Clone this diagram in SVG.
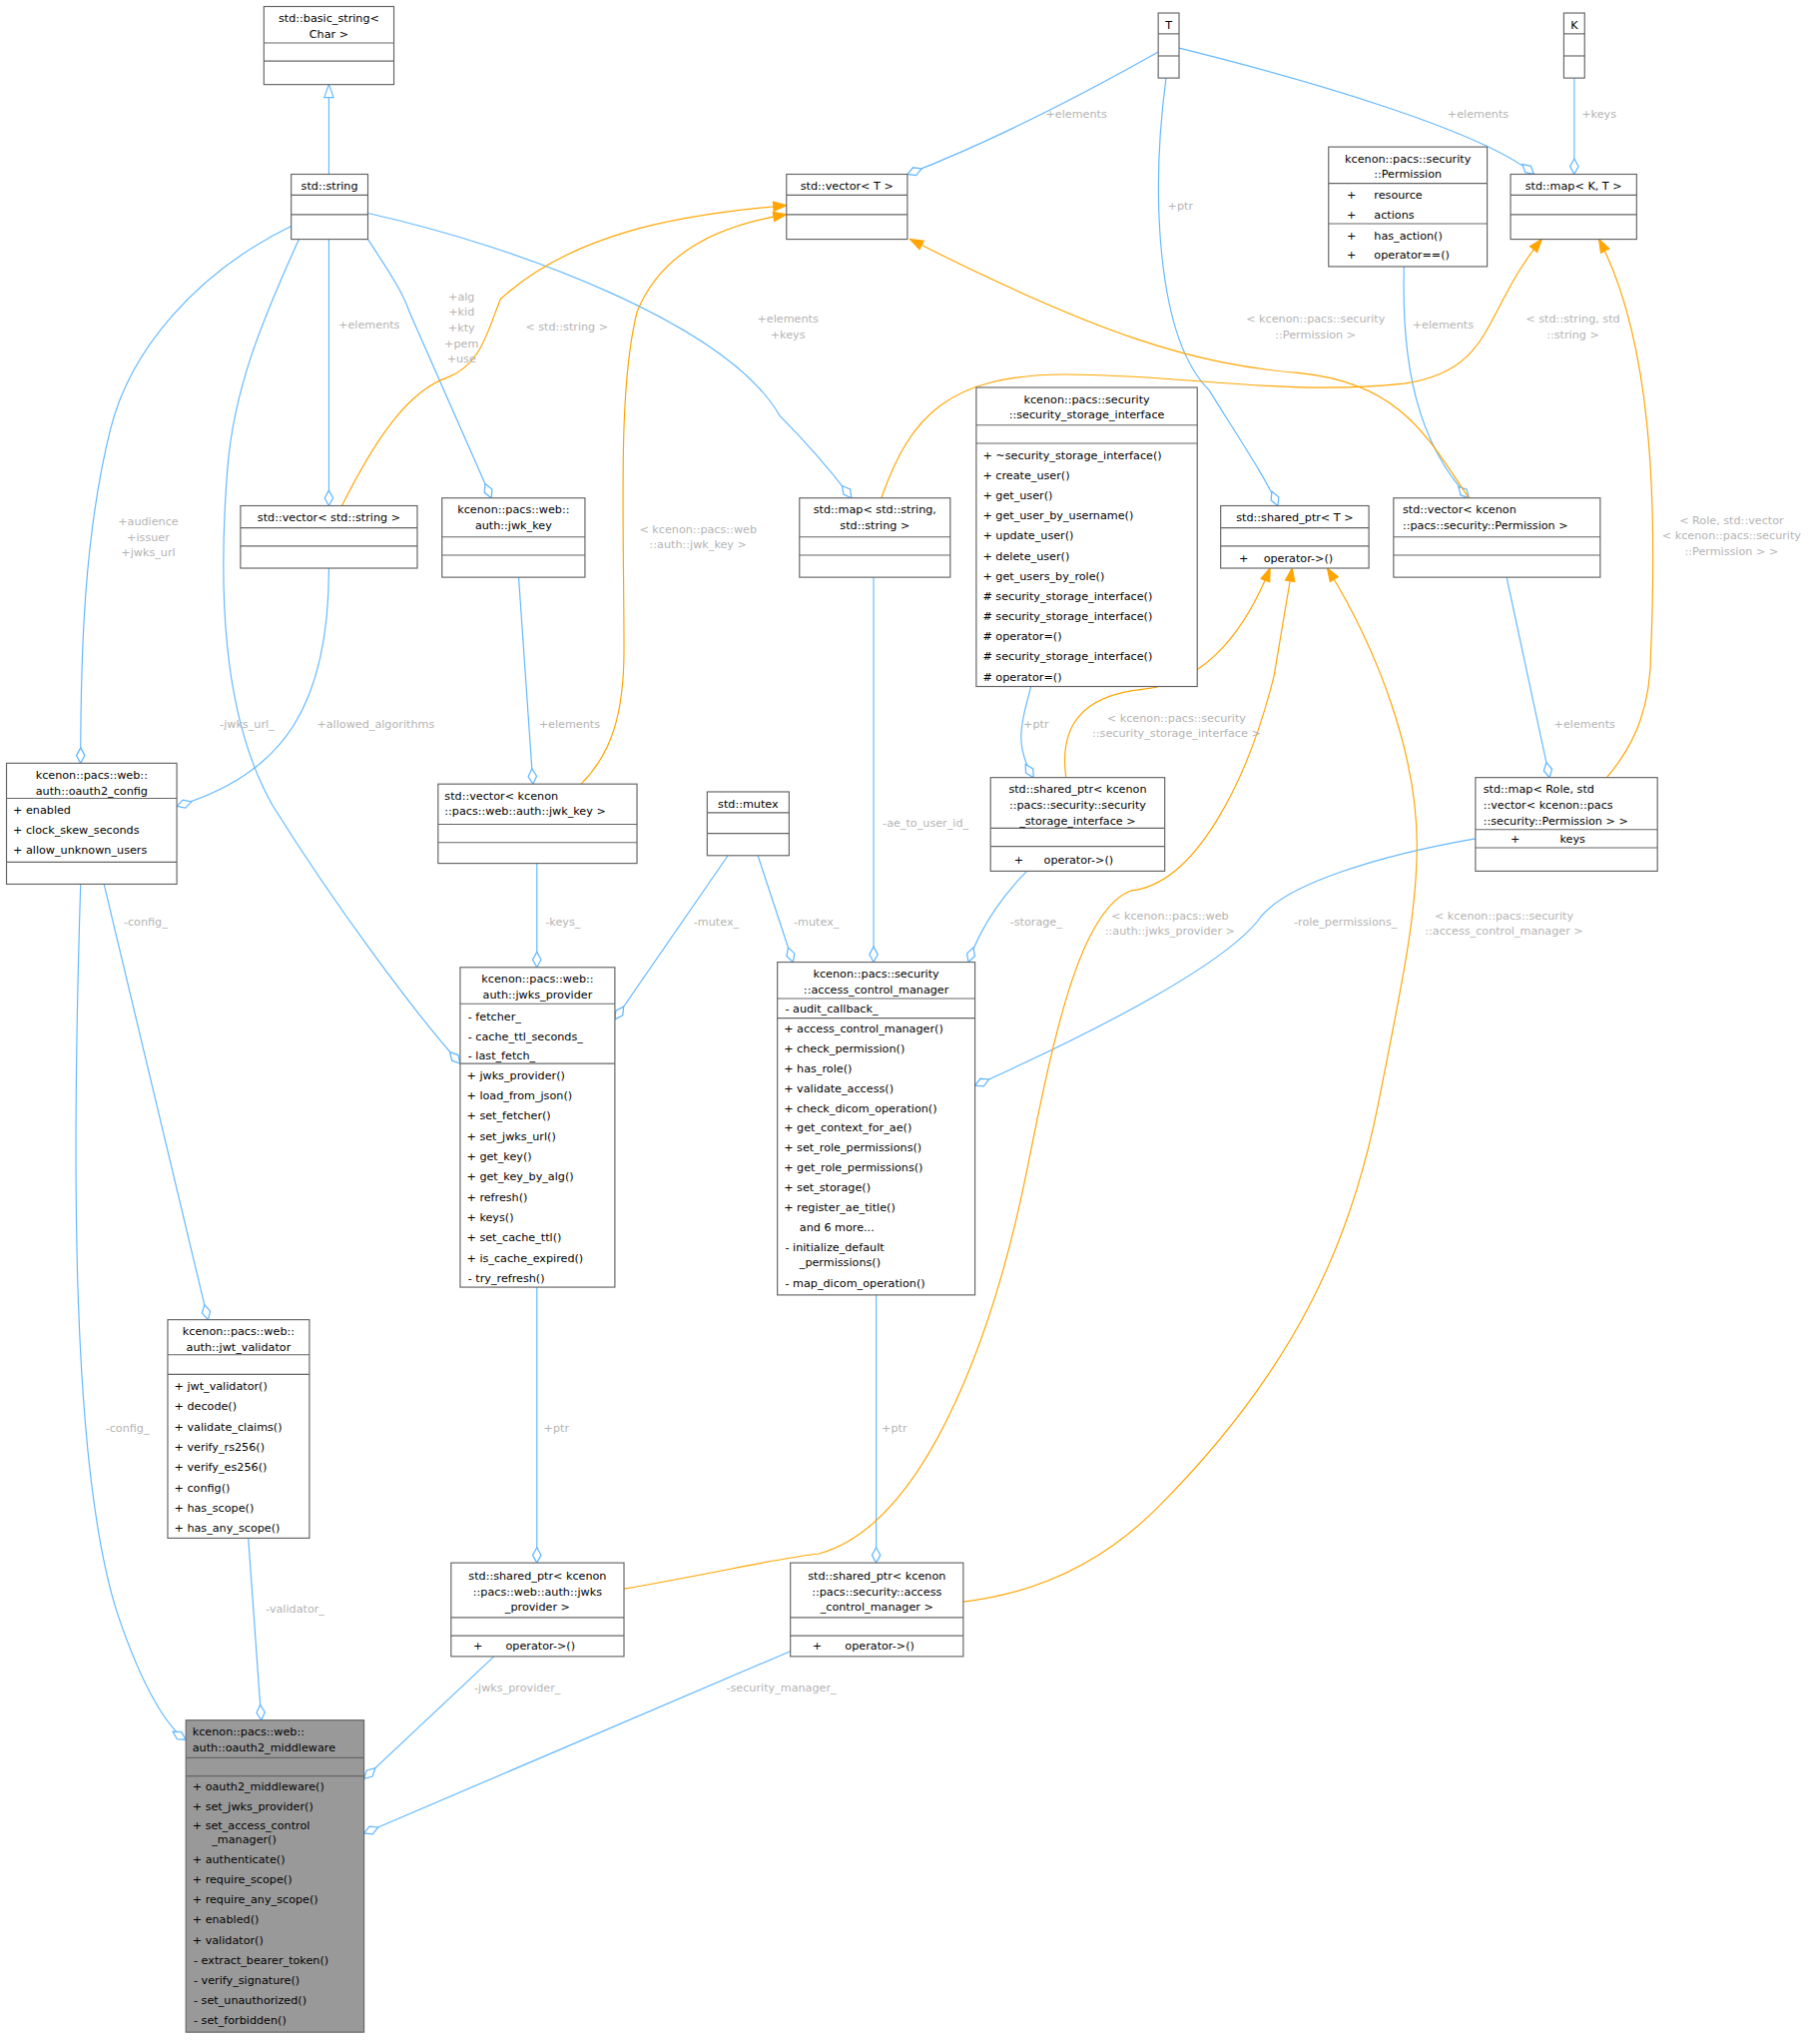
<svg xmlns="http://www.w3.org/2000/svg" width="1823" height="2044" viewBox="0 0 1823 2044">
<style>
.n rect{fill:#fff;stroke:#666;stroke-width:0.9}
.n line{stroke:#666;stroke-width:0.9}
.n text,.t{font-family:"DejaVu Sans",sans-serif;font-size:8.6px;fill:#000}
.c{text-anchor:middle}
.e path{fill:none;stroke:#63b8ff;stroke-width:0.9}
.e path.o{stroke:#ffa500}
.l{font-family:"DejaVu Sans",sans-serif;font-size:8.6px;fill:#b4b4b4;text-anchor:middle}
</style>
<defs>
<marker id="d" markerUnits="userSpaceOnUse" markerWidth="14" markerHeight="10" viewBox="-1 -4 13 8" refX="11" refY="0" orient="auto"><path d="M0,0 L5.5,-3 L11,0 L5.5,3 Z" fill="#fff" stroke="#63b8ff" stroke-width="0.9"/></marker>
<marker id="a" markerUnits="userSpaceOnUse" markerWidth="12" markerHeight="10" viewBox="-1 -4.5 12 9" refX="10" refY="0" orient="auto"><path d="M0,-3.6 L10,0 L0,3.6 Z" fill="#ffa500" stroke="#ffa500" stroke-width="0.9"/></marker>
<marker id="h" markerUnits="userSpaceOnUse" markerWidth="12" markerHeight="10" viewBox="-1 -4.5 12 9" refX="10" refY="0" orient="auto"><path d="M0,-3.6 L10,0 L0,3.6 Z" fill="#fff" stroke="#63b8ff" stroke-width="0.9"/></marker>
</defs>
<rect width="1823" height="2044" fill="#fff"/>
<g transform="scale(1.3021)">
<g id="edges" class="e">
<path d="M253,134 L253,65" marker-end="url(#h)"/>
<path d="M891,40 C820,80 760,110 698,134" marker-end="url(#d)"/>
<path d="M907,37 C1000,60 1140,100 1180,134" marker-end="url(#d)"/>
<path d="M1211,60 L1211,134" marker-end="url(#d)"/>
<path d="M897,60 C885,150 890,260 930,300 C955,340 975,370 983,389" marker-end="url(#d)"/>
<path d="M253,184 L253,389" marker-end="url(#d)"/>
<path d="M283,184 C300,210 310,225 315,240 L378,383" marker-end="url(#d)"/>
<path d="M283,164 C400,190 560,250 600,320 C630,350 645,370 655,383" marker-end="url(#d)"/>
<path d="M224,174 C150,210 100,270 85,330 C65,410 62,500 62,587" marker-end="url(#d)"/>
<path d="M230,184 C200,250 180,300 175,360 C168,450 170,550 210,620 C260,700 320,780 354,818" marker-end="url(#d)"/>
<path d="M253,437 C253,540 220,595 136,620" marker-end="url(#d)"/>
<path d="M399,444 L410,603" marker-end="url(#d)"/>
<path d="M413,664 L413,744" marker-end="url(#d)"/>
<path d="M560,658 L473,784" marker-end="url(#d)"/>
<path d="M583,658 L610,740" marker-end="url(#d)"/>
<path d="M672,444 L672,740" marker-end="url(#d)"/>
<path d="M793,528 C788,550 778,570 795,598" marker-end="url(#d)"/>
<path d="M790,670 C775,685 755,710 745,740" marker-end="url(#d)"/>
<path d="M1135,645 C1060,658 990,680 970,705 C945,740 850,790 750,835" marker-end="url(#d)"/>
<path d="M1159,444 L1192,598" marker-end="url(#d)"/>
<path d="M1080,205 C1078,280 1090,340 1130,383" marker-end="url(#d)"/>
<path d="M674,996 L674,1202" marker-end="url(#d)"/>
<path d="M413,990 L413,1202" marker-end="url(#d)"/>
<path d="M80,680 L160,1015" marker-end="url(#d)"/>
<path d="M62,680 C55,900 55,1130 90,1240 C110,1300 130,1330 143,1338" marker-end="url(#d)"/>
<path d="M191,1183 L201,1323" marker-end="url(#d)"/>
<path d="M380,1274 L280,1368" marker-end="url(#d)"/>
<path d="M608,1270 L280,1410" marker-end="url(#d)"/>
<path class="o" d="M263,389 C290,335 315,300 345,290 C370,280 375,255 385,230 C440,180 520,165 605,158" marker-end="url(#a)"/>
<path class="o" d="M447,603 C470,580 480,550 480,500 C480,400 475,300 490,240 C510,190 560,172 605,165" marker-end="url(#a)"/>
<path class="o" d="M1130,383 C1100,340 1080,295 1000,287 C920,280 850,260 700,184" marker-end="url(#a)"/>
<path class="o" d="M678,383 C700,320 730,288 820,288 C910,288 990,305 1080,295 C1150,285 1140,240 1186,184" marker-end="url(#a)"/>
<path class="o" d="M1236,598 C1260,570 1270,540 1270,500 C1275,380 1270,260 1230,184" marker-end="url(#a)"/>
<path class="o" d="M820,598 C815,560 830,535 880,530 C930,525 960,480 977,437" marker-end="url(#a)"/>
<path class="o" d="M480,1222 C550,1210 600,1198 630,1195 C720,1170 770,1000 790,900 C810,800 830,700 870,685 C920,680 960,600 980,520 L994,437" marker-end="url(#a)"/>
<path class="o" d="M741,1232 C800,1225 850,1200 890,1160 C1000,1050 1040,950 1060,850 C1080,750 1090,700 1090,650 C1090,580 1060,500 1021,437" marker-end="url(#a)"/>
</g>
<g id="labels">
<text class="l" x="828" y="91">+elements</text>
<text class="l" x="1137" y="91">+elements</text>
<text class="l" x="1230" y="91">+keys</text>
<text class="l" x="908" y="161">+ptr</text>
<text class="l" x="284" y="253">+elements</text>
<text class="l" x="355" y="231">+alg</text><text class="l" x="355" y="243">+kid</text><text class="l" x="355" y="255">+kty</text><text class="l" x="355" y="267">+pem</text><text class="l" x="355" y="279">+use</text>
<text class="l" x="606" y="248">+elements</text><text class="l" x="606" y="260">+keys</text>
<text class="l" x="114" y="404">+audience</text><text class="l" x="114" y="416">+issuer</text><text class="l" x="114" y="428">+jwks_url</text>
<text class="l" x="190" y="560">-jwks_url_</text>
<text class="l" x="289" y="560">+allowed_algorithms</text>
<text class="l" x="438" y="560">+elements</text>
<text class="l" x="433" y="712">-keys_</text>
<text class="l" x="551" y="712">-mutex_</text>
<text class="l" x="628" y="712">-mutex_</text>
<text class="l" x="712" y="636">-ae_to_user_id_</text>
<text class="l" x="797" y="560">+ptr</text>
<text class="l" x="797" y="712">-storage_</text>
<text class="l" x="1035" y="712">-role_permissions_</text>
<text class="l" x="1219" y="560">+elements</text>
<text class="l" x="1110" y="253">+elements</text>
<text class="l" x="688" y="1101">+ptr</text>
<text class="l" x="428" y="1101">+ptr</text>
<text class="l" x="112" y="712">-config_</text>
<text class="l" x="98" y="1101">-config_</text>
<text class="l" x="227" y="1240">-validator_</text>
<text class="l" x="398" y="1301">-jwks_provider_</text>
<text class="l" x="601" y="1301">-security_manager_</text>
<text class="l" x="436" y="254">&lt; std::string &gt;</text>
<text class="l" x="537" y="410">&lt; kcenon::pacs::web</text><text class="l" x="537" y="422">::auth::jwk_key &gt;</text>
<text class="l" x="1012" y="248">&lt; kcenon::pacs::security</text><text class="l" x="1012" y="260">::Permission &gt;</text>
<text class="l" x="1210" y="248">&lt; std::string, std</text><text class="l" x="1210" y="260">::string &gt;</text>
<text class="l" x="1332" y="403">&lt; Role, std::vector</text><text class="l" x="1332" y="415">&lt; kcenon::pacs::security</text><text class="l" x="1332" y="427">::Permission &gt; &gt;</text>
<text class="l" x="905" y="555">&lt; kcenon::pacs::security</text><text class="l" x="905" y="567">::security_storage_interface &gt;</text>
<text class="l" x="900" y="707">&lt; kcenon::pacs::web</text><text class="l" x="900" y="719">::auth::jwks_provider &gt;</text>
<text class="l" x="1157" y="707">&lt; kcenon::pacs::security</text><text class="l" x="1157" y="719">::access_control_manager &gt;</text>
</g>
<g id="basic_string" class="n"><rect x="203" y="5" width="100" height="60"/><line x1="203" y1="33" x2="303" y2="33"/><line x1="203" y1="47" x2="303" y2="47"/><text class="c" x="253" y="17">std::basic_string&lt;</text><text class="c" x="253" y="29">Char &gt;</text></g>
<g id="string" class="n"><rect x="224" y="134" width="59" height="50"/><line x1="224" y1="150" x2="283" y2="150"/><line x1="224" y1="165" x2="283" y2="165"/><text class="c" x="253.5" y="146">std::string</text></g>
<g id="T" class="n"><rect x="891" y="10" width="16" height="50"/><line x1="891" y1="26" x2="907" y2="26"/><line x1="891" y1="43" x2="907" y2="43"/><text class="c" x="899" y="22">T</text></g>
<g id="K" class="n"><rect x="1203" y="10" width="16" height="50"/><line x1="1203" y1="26" x2="1219" y2="26"/><line x1="1203" y1="43" x2="1219" y2="43"/><text class="c" x="1211" y="22">K</text></g>
<g id="vectorT" class="n"><rect x="605" y="134" width="93" height="50"/><line x1="605" y1="150" x2="698" y2="150"/><line x1="605" y1="165" x2="698" y2="165"/><text class="c" x="651.5" y="146">std::vector&lt; T &gt;</text></g>
<g id="mapKT" class="n"><rect x="1162" y="134" width="97" height="50"/><line x1="1162" y1="150" x2="1259" y2="150"/><line x1="1162" y1="165" x2="1259" y2="165"/><text class="c" x="1210.5" y="146">std::map&lt; K, T &gt;</text></g>
<g id="Permission" class="n"><rect x="1022" y="113" width="122" height="92"/><line x1="1022" y1="141" x2="1144" y2="141"/><line x1="1022" y1="172" x2="1144" y2="172"/><text class="c" x="1083" y="125">kcenon::pacs::security</text><text class="c" x="1083" y="137">::Permission</text><text x="1036" y="153">+</text><text x="1057" y="153">resource</text><text x="1036" y="168">+</text><text x="1057" y="168">actions</text><text x="1036" y="184">+</text><text x="1057" y="184">has_action()</text><text x="1036" y="199">+</text><text x="1057" y="199">operator==()</text></g>
<g id="ssi" class="n"><rect x="751" y="298" width="170" height="230"/><line x1="751" y1="327" x2="921" y2="327"/><line x1="751" y1="341" x2="921" y2="341"/><text class="c" x="836" y="310">kcenon::pacs::security</text><text class="c" x="836" y="322">::security_storage_interface</text>
<text x="756" y="353">+ ~security_storage_interface()</text><text x="756" y="368.5">+ create_user()</text><text x="756" y="384">+ get_user()</text><text x="756" y="399.5">+ get_user_by_username()</text><text x="756" y="415">+ update_user()</text><text x="756" y="430.5">+ delete_user()</text><text x="756" y="446">+ get_users_by_role()</text><text x="756" y="461.5"># security_storage_interface()</text><text x="756" y="477"># security_storage_interface()</text><text x="756" y="492.5"># operator=()</text><text x="756" y="508"># security_storage_interface()</text><text x="756" y="523.5"># operator=()</text></g>
<g id="shared_ptrT" class="n"><rect x="939" y="389" width="114" height="48"/><line x1="939" y1="406" x2="1053" y2="406"/><line x1="939" y1="420" x2="1053" y2="420"/><text class="c" x="996" y="401">std::shared_ptr&lt; T &gt;</text><text x="953" y="432">+</text><text x="972" y="432">operator-&gt;()</text></g>
<g id="vecPerm" class="n"><rect x="1072" y="383" width="159" height="61"/><line x1="1072" y1="413" x2="1231" y2="413"/><line x1="1072" y1="427" x2="1231" y2="427"/><text x="1079" y="395">std::vector&lt; kcenon</text><text x="1079" y="407">::pacs::security::Permission &gt;</text></g>
<g id="mapStr" class="n"><rect x="615" y="383" width="116" height="61"/><line x1="615" y1="413" x2="731" y2="413"/><line x1="615" y1="427" x2="731" y2="427"/><text class="c" x="673" y="395">std::map&lt; std::string,</text><text class="c" x="673" y="407">std::string &gt;</text></g>
<g id="jwk_key" class="n"><rect x="340" y="383" width="110" height="61"/><line x1="340" y1="413" x2="450" y2="413"/><line x1="340" y1="427" x2="450" y2="427"/><text class="c" x="395" y="395">kcenon::pacs::web::</text><text class="c" x="395" y="407">auth::jwk_key</text></g>
<g id="vecStr" class="n"><rect x="185" y="389" width="136" height="48"/><line x1="185" y1="406" x2="321" y2="406"/><line x1="185" y1="420" x2="321" y2="420"/><text class="c" x="253" y="401">std::vector&lt; std::string &gt;</text></g>
<g id="oauth2_config" class="n"><rect x="5" y="587" width="131" height="93"/><line x1="5" y1="614" x2="136" y2="614"/><line x1="5" y1="663" x2="136" y2="663"/><text class="c" x="70.5" y="599">kcenon::pacs::web::</text><text class="c" x="70.5" y="611">auth::oauth2_config</text><text x="10" y="626">+  enabled</text><text x="10" y="641.5">+  clock_skew_seconds</text><text x="10" y="657">+  allow_unknown_users</text></g>
<g id="vecJwk" class="n"><rect x="337" y="603" width="153" height="61"/><line x1="337" y1="634" x2="490" y2="634"/><line x1="337" y1="648" x2="490" y2="648"/><text x="342" y="615">std::vector&lt; kcenon</text><text x="342" y="627">::pacs::web::auth::jwk_key &gt;</text></g>
<g id="mutex" class="n"><rect x="544" y="609" width="63" height="49"/><line x1="544" y1="625" x2="607" y2="625"/><line x1="544" y1="641" x2="607" y2="641"/><text class="c" x="575.5" y="621">std::mutex</text></g>
<g id="spStorage" class="n"><rect x="762" y="598" width="134" height="72"/><line x1="762" y1="637" x2="896" y2="637"/><line x1="762" y1="651" x2="896" y2="651"/><text class="c" x="829" y="610">std::shared_ptr&lt; kcenon</text><text class="c" x="829" y="622">::pacs::security::security</text><text class="c" x="829" y="634">_storage_interface &gt;</text><text x="780" y="664">+</text><text x="803" y="664">operator-&gt;()</text></g>
<g id="mapRole" class="n"><rect x="1135" y="598" width="140" height="72"/><line x1="1135" y1="638" x2="1275" y2="638"/><line x1="1135" y1="652" x2="1275" y2="652"/><text x="1141" y="610">std::map&lt; Role, std</text><text x="1141" y="622">::vector&lt; kcenon::pacs</text><text x="1141" y="634">::security::Permission &gt; &gt;</text><text x="1162" y="648">+</text><text x="1200" y="648">keys</text></g>
<g id="jwks_provider" class="n"><rect x="354" y="744" width="119" height="246"/><line x1="354" y1="772" x2="473" y2="772"/><line x1="354" y1="818" x2="473" y2="818"/><text class="c" x="413.5" y="756">kcenon::pacs::web::</text><text class="c" x="413.5" y="768">auth::jwks_provider</text>
<text x="360" y="785">-  fetcher_</text><text x="360" y="800">-  cache_ttl_seconds_</text><text x="360" y="815">-  last_fetch_</text>
<text x="359" y="830">+ jwks_provider()</text><text x="359" y="845.6">+ load_from_json()</text><text x="359" y="861.2">+ set_fetcher()</text><text x="359" y="876.8">+ set_jwks_url()</text><text x="359" y="892.4">+ get_key()</text><text x="359" y="908">+ get_key_by_alg()</text><text x="359" y="923.6">+ refresh()</text><text x="359" y="939.2">+ keys()</text><text x="359" y="954.8">+ set_cache_ttl()</text><text x="359" y="970.4">+ is_cache_expired()</text><text x="360" y="986">-  try_refresh()</text></g>
<g id="acm" class="n"><rect x="598" y="740" width="152" height="256"/><line x1="598" y1="768" x2="750" y2="768"/><line x1="598" y1="783" x2="750" y2="783"/><text class="c" x="674" y="752">kcenon::pacs::security</text><text class="c" x="674" y="764">::access_control_manager</text>
<text x="604" y="779">-  audit_callback_</text>
<text x="603" y="794">+ access_control_manager()</text><text x="603" y="809.3">+ check_permission()</text><text x="603" y="824.6">+ has_role()</text><text x="603" y="839.9">+ validate_access()</text><text x="603" y="855.2">+ check_dicom_operation()</text><text x="603" y="870.5">+ get_context_for_ae()</text><text x="603" y="885.8">+ set_role_permissions()</text><text x="603" y="901.1">+ get_role_permissions()</text><text x="603" y="916.4">+ set_storage()</text><text x="603" y="931.7">+ register_ae_title()</text><text x="615" y="947">and 6 more...</text><text x="604" y="962">-  initialize_default</text><text x="615" y="974">_permissions()</text><text x="604" y="990">-  map_dicom_operation()</text></g>
<g id="jwt_validator" class="n"><rect x="129" y="1015" width="109" height="168"/><line x1="129" y1="1042" x2="238" y2="1042"/><line x1="129" y1="1057" x2="238" y2="1057"/><text class="c" x="183.5" y="1027">kcenon::pacs::web::</text><text class="c" x="183.5" y="1039">auth::jwt_validator</text>
<text x="134" y="1069">+ jwt_validator()</text><text x="134" y="1084.6">+ decode()</text><text x="134" y="1100.2">+ validate_claims()</text><text x="134" y="1115.8">+ verify_rs256()</text><text x="134" y="1131.4">+ verify_es256()</text><text x="134" y="1147">+ config()</text><text x="134" y="1162.6">+ has_scope()</text><text x="134" y="1178.2">+ has_any_scope()</text></g>
<g id="spJwks" class="n"><rect x="347" y="1202" width="133" height="72"/><line x1="347" y1="1244" x2="480" y2="1244"/><line x1="347" y1="1258" x2="480" y2="1258"/><text class="c" x="413.5" y="1215">std::shared_ptr&lt; kcenon</text><text class="c" x="413.5" y="1227">::pacs::web::auth::jwks</text><text class="c" x="413.5" y="1239">_provider &gt;</text><text x="364" y="1269">+</text><text x="389" y="1269">operator-&gt;()</text></g>
<g id="spAcm" class="n"><rect x="608" y="1202" width="133" height="72"/><line x1="608" y1="1244" x2="741" y2="1244"/><line x1="608" y1="1258" x2="741" y2="1258"/><text class="c" x="674.5" y="1215">std::shared_ptr&lt; kcenon</text><text class="c" x="674.5" y="1227">::pacs::security::access</text><text class="c" x="674.5" y="1239">_control_manager &gt;</text><text x="625" y="1269">+</text><text x="650" y="1269">operator-&gt;()</text></g>
<g id="oauth2_middleware" class="n"><rect x="143" y="1323" width="137" height="240" style="fill:#999999"/><line x1="143" y1="1352" x2="280" y2="1352"/><line x1="143" y1="1366" x2="280" y2="1366"/><text x="148" y="1335">kcenon::pacs::web::</text><text x="148" y="1347">auth::oauth2_middleware</text>
<text x="148" y="1377">+  oauth2_middleware()</text><text x="148" y="1392">+  set_jwks_provider()</text><text x="148" y="1407">+  set_access_control</text><text x="163" y="1418">_manager()</text><text x="148" y="1433">+  authenticate()</text><text x="148" y="1448.5">+  require_scope()</text><text x="148" y="1464">+  require_any_scope()</text><text x="148" y="1479.5">+  enabled()</text><text x="148" y="1495">+  validator()</text><text x="149" y="1510.5">-  extract_bearer_token()</text><text x="149" y="1526">-  verify_signature()</text><text x="149" y="1541.5">-  set_unauthorized()</text><text x="149" y="1557">-  set_forbidden()</text></g>
</g>
</svg>
